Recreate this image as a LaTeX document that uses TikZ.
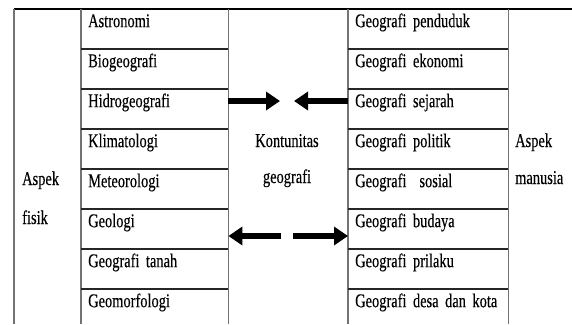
\documentclass[tikz,border=0pt]{standalone}
\usepackage{fontspec}
\setmainfont{Liberation Serif}[FakeStretch=0.74, FakeBold=0.3]
\usepackage{tikz}
\usetikzlibrary{arrows.meta,positioning,calc}
\definecolor{rulegray}{gray}{0.45}
\newcommand\diagfont{\fontsize{19.5}{22}\selectfont\spaceskip=3.6pt plus 1pt minus 0.5pt\relax}

\begin{document}
\begin{tikzpicture}[
    x=1pt, y=-1pt,
    font=\diagfont,
    lcell/.style={anchor=north west, minimum width=147pt, minimum height=40pt, text width=133pt, inner xsep=7pt, inner ysep=0pt, text height=18pt, text depth=22pt, align=left},
    rcell/.style={lcell, minimum width=160pt, text width=146pt},
    txt/.style={inner sep=0pt, anchor=base west},
    vline/.style={draw=rulegray, line width=1.8pt},
    hline/.style={draw=black!85, line width=1.3pt},
    fat/.style={-{Triangle[length=14pt,width=18pt]}, line width=5.5pt}
]
\useasboundingbox (0,0) rectangle (572,324);

% aspek fisik
\node[lcell] (l1) at (81,9) {Astronomi};
\node[lcell] (l2) at (81,49) {Biogeografi};
\node[lcell] (l3) at (81,89) {Hidrogeografi};
\node[lcell] (l4) at (81,129) {Klimatologi};
\node[lcell] (l5) at (81,169) {Meteorologi};
\node[lcell] (l6) at (81,209) {Geologi};
\node[lcell] (l7) at (81,249) {Geografi tanah};
\node[lcell] (l8) at (81,289) {Geomorfologi};

% aspek manusia
\node[rcell] (r1) at (348,9) {Geografi penduduk};
\node[rcell] (r2) at (348,49) {Geografi ekonomi};
\node[rcell] (r3) at (348,89) {Geografi sejarah};
\node[rcell] (r4) at (348,129) {Geografi politik};
\node[rcell] (r5) at (348,169) {Geografi\ \ sosial};
\node[rcell] (r6) at (348,209) {Geografi budaya};
\node[rcell] (r7) at (348,249) {Geografi prilaku};
\node[rcell] (r8) at (348,289) {Geografi desa dan kota};

% side and middle labels
\node[txt] (af1) at (22,185) {Aspek};
\node[txt] (af2) at (22,224) {fisik};
\node[txt, anchor=base] (kg1) at (287,147) {Kontunitas};
\node[txt, anchor=base] (kg2) at (287,183) {geografi};
\node[txt] (am1) at (515,147) {Aspek};
\node[txt] (am2) at (515,184) {manusia};

% grid
\coordinate (fl) at (14,9);
\coordinate (bt) at (0,324);
\draw[line width=1.6pt] (fl) -- (572,9);
\draw[vline] (fl) -- (fl |- bt);
\draw[vline] (l1.north west) -- (l1.north west |- bt);
\draw[vline] (l1.north east) -- (l1.north east |- bt);
\draw[vline] (r1.north west) -- (r1.north west |- bt);
\draw[vline] (r1.north east) -- (r1.north east |- bt);
\foreach \i in {2,...,8}{
    \draw[hline] (l\i.north west) -- (l\i.north east);
    \draw[hline] (r\i.north west) -- (r\i.north east);
}

% arrows
\coordinate (m1) at (280,101);
\coordinate (m2) at (294,101);
\coordinate (m3) at (281,236);
\coordinate (m4) at (293,236);
\draw[fat] (l3.east |- m1) -- (m1);
\draw[fat] (r3.west |- m2) -- (m2);
\draw[fat] (m3) -- (l6.east |- m3);
\draw[fat] (m4) -- (r6.west |- m4);
\end{tikzpicture}
\end{document}
